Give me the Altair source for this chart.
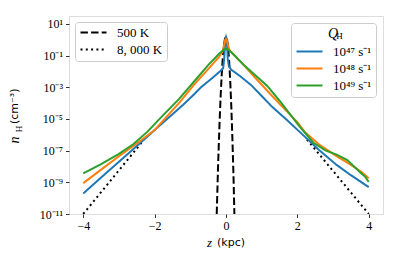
import altair as alt
import pandas as pd

# ---- data (log10 of n_H) ----
q_labels = ["10⁴⁷ s⁻¹", "10⁴⁸ s⁻¹", "10⁴⁹ s⁻¹"]
q_colors = ["#1f77b4", "#ff7f0e", "#2ca02c"]

z_q47 = [-4.0, -3.5, -3.0, -2.5, -2.2, -2.0, -1.5, -1.2, -0.9, -0.7, -0.4, -0.15, -0.08, -0.05, -0.03,
         -0.01, 0.0, 0.01, 0.03, 0.05, 0.08, 0.15, 0.4, 0.7, 1.0, 1.3, 1.7, 2.2, 2.6, 3.1, 3.5, 4.0]
logn_q47 = [-9.7, -8.7, -7.7, -6.7, -6.1, -5.7, -4.7, -4.1, -3.45, -3.0, -2.45, -1.95, -1.8, -1.2, -0.4,
            0.1, 0.18, 0.1, -0.4, -1.2, -1.68, -1.9, -2.3, -2.85, -3.55, -4.25, -5.05, -6.1, -6.95, -7.9, -8.55, -9.3]

z_q48 = [-4.0, -3.5, -3.0, -2.5, -2.0, -1.7, -1.3, -0.9, -0.5, -0.2, -0.1, -0.05, -0.02, 0.0, 0.02,
         0.05, 0.1, 0.2, 0.5, 0.8, 1.15, 1.5, 2.0, 2.2, 2.6, 3.1, 3.5, 3.8, 4.0]
logn_q48 = [-9.05, -8.2, -7.35, -6.55, -5.7, -4.95, -3.95, -2.85, -1.85, -1.1, -0.75, -0.3, 0.0, 0.05, 0.0,
            -0.3, -0.65, -0.9, -1.6, -2.35, -3.2, -4.05, -5.2, -5.8, -6.6, -7.35, -7.9, -8.35, -8.75]

z_q49 = [-4.0, -3.5, -3.0, -2.6, -2.2, -1.8, -1.32, -0.9, -0.5, -0.2, -0.05, 0.0, 0.05, 0.2, 0.5,
         0.9, 1.15, 1.5, 2.07, 2.45, 2.8, 3.1, 3.4, 3.75, 3.9, 4.0]
logn_q49 = [-8.43, -7.85, -7.2, -6.6, -5.8, -4.85, -3.75, -2.65, -1.6, -0.9, -0.6, -0.58, -0.6, -0.9, -1.6,
            -2.4, -2.9, -3.85, -5.5, -6.5, -7.0, -7.25, -7.6, -8.35, -8.65, -8.98]

t_labels = ["500 K", "8, 000 K"]
z_500 = [-0.26, -0.22, -0.18, -0.15, -0.12, -0.09, -0.06, -0.03, 0.0, 0.03, 0.06, 0.09, 0.12, 0.15, 0.18, 0.21, 0.235]
logn_500 = [-11.0, -7.8, -5.2, -3.55, -2.2, -1.15, -0.4, 0.05, 0.2, 0.02, -0.52, -1.42, -2.68, -4.3, -6.3, -8.6, -11.0]

z_8000_left = [-4.0, -2.35]
logn_8000_left = [-11.0, -6.45]
z_8000_right = [2.27, 4.0]
logn_8000_right = [-6.3, -11.0]

x_ticks = [-4, -2, 0, 2, 4]
y_tick_exps = [1, -1, -3, -5, -7, -9, -11]

# ---- tables ----
rows = []
for lab, zs, ls in zip(q_labels, [z_q47, z_q48, z_q49], [logn_q47, logn_q48, logn_q49]):
    for z, l in zip(zs, ls):
        rows.append({"z": z, "n": 10 ** l, "Q": lab})
qdf = pd.DataFrame(rows)

trows = []
for z, l in zip(z_500, logn_500):
    trows.append({"z": z, "n": 10 ** l, "T": t_labels[0], "seg": "a"})
for z, l in zip(z_8000_left, logn_8000_left):
    trows.append({"z": z, "n": 10 ** l, "T": t_labels[1], "seg": "b"})
for z, l in zip(z_8000_right, logn_8000_right):
    trows.append({"z": z, "n": 10 ** l, "T": t_labels[1], "seg": "c"})
tdf = pd.DataFrame(trows)

sup = str.maketrans("-0123456789", "⁻⁰¹²³⁴⁵⁶⁷⁸⁹")
expr = "''"
for e in y_tick_exps:
    expr = f"(round(log(datum.value)/LN10) == {e} ? '10{str(e).translate(sup)}' : {expr})"

SERIF = "Liberation Serif"
SANS = "DejaVu Sans"
LINE_SYM = "M-1,0H4.2"

xscale = alt.Scale(domain=[-4.4, 4.4], nice=False, zero=False)
yscale = alt.Scale(type="log", domain=[1e-11, 10 ** 1.5], nice=False)

xaxis = alt.Axis(values=x_ticks, title=None, grid=False, labelFont=SERIF, labelFontSize=12,
                 labelColor="black", tickColor="black", tickSize=3.5, tickWidth=0.8, domain=False,
                 labelPadding=3)
yaxis = alt.Axis(values=[10.0 ** e for e in y_tick_exps], labelExpr=expr, title=None, grid=False,
                 labelFont=SERIF, labelFontSize=12, labelColor="black", tickColor="black",
                 tickSize=3.5, tickWidth=0.8, domain=False, labelPadding=3)

black = alt.Chart(tdf).mark_line(clip=True, strokeWidth=2, color="black").encode(
    x=alt.X("z:Q", scale=xscale, axis=xaxis),
    y=alt.Y("n:Q", scale=yscale, axis=yaxis),
    strokeDash=alt.StrokeDash("T:N", scale=alt.Scale(domain=t_labels, range=[[7.4, 3.2], [2, 3.3]]),
                              legend=alt.Legend(orient="top-left", title=None, offset=6, padding=4,
                                                fillColor="white", strokeColor="#cccccc", cornerRadius=3,
                                                symbolType=LINE_SYM, symbolSize=100, symbolStrokeWidth=2,
                                                symbolStrokeColor="black", symbolFillColor="transparent",
                                                labelFont=SERIF,
                                                labelFontSize=13, labelColor="black", labelOffset=25,
                                                rowPadding=3)),
    detail="seg:N",
    order="z:Q",
)

colored = alt.Chart(qdf).mark_line(clip=True, strokeWidth=2).encode(
    x=alt.X("z:Q", scale=xscale),
    y=alt.Y("n:Q", scale=yscale),
    color=alt.Color("Q:N", scale=alt.Scale(domain=q_labels, range=q_colors),
                    legend=alt.Legend(orient="top-right", title="Q\u2002", titleFont=SERIF, titleFontSize=14,
                                      titleFontStyle="italic", titleFontWeight="normal", titleColor="black",
                                      titleAnchor="middle", titlePadding=4, offset=7, padding=4,
                                      fillColor="transparent", strokeColor="#cccccc", cornerRadius=3,
                                      symbolType=LINE_SYM, symbolSize=100, symbolStrokeWidth=2,
                                      symbolFillColor="transparent",
                                      labelFont=SERIF, labelFontSize=13, labelColor="black",
                                      labelOffset=25, rowPadding=3)),
    order="z:Q",
)

one = pd.DataFrame({"k": [0]})
def txt(s, x, y, font, size, style="normal", angle=0, align="center"):
    return alt.Chart(one).mark_text(text=s, font=font, fontSize=size, fontStyle=style, angle=angle,
                                    align=align, baseline="middle", color="black").encode(
        x=alt.value(x), y=alt.value(y))

titles = [
    txt("z", 140.5, 227, SERIF, 13, "italic"),
    txt("(kpc)", 148, 227, SANS, 11, align="left"),
    txt("n", -54, 124, SERIF, 14, "italic", angle=270),
    txt("H", -50, 113, SERIF, 9, angle=270),
    txt("(cm⁻³)", -54, 108, SANS, 11, angle=270, align="left"),
    txt("H", 270.5, 20, SERIF, 9),
]

chart = alt.layer(black, colored, *titles).properties(
    width=314, height=198,
    padding={"left": 61, "top": 8, "right": 8, "bottom": 44},
    autosize=alt.AutoSizeParams(type="none"),
).configure_view(stroke="black", strokeWidth=1).configure(background="white")

chart.save("out.html", embed_options={"renderer": "svg", "actions": False})
